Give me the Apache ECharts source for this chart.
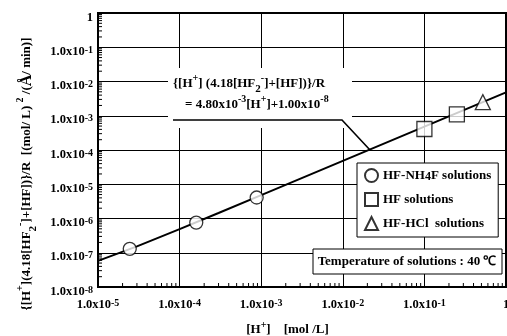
<!DOCTYPE html>
<html><head><meta charset="utf-8">
<script src="https://cdn.jsdelivr.net/npm/echarts@6/dist/echarts.min.js"></script>
<style>html,body{margin:0;padding:0;background:#fff}#c{width:507px;height:336px}</style>
</head><body><div id="c"></div>
<script>
// ---- data ----
var nh4fX = [2.45e-5, 1.6e-4, 8.8e-4];
var nh4fY = [1.3e-7, 7.6e-7, 4.1e-6];
var hfX = [0.10, 0.25];
var hfY = [4.1e-4, 1.1e-3];
var hclX = [0.52];
var hclY = [2.5e-3];
var fitX = [1e-5, 3e-5, 1e-4, 3e-4, 1e-3, 1e-2, 1e-1, 1];
var fitY = [5.8e-8, 1.54e-7, 4.9e-7, 1.45e-6, 4.8e-6, 4.8e-5, 4.8e-4, 4.8e-3];
var xDecades = [1e-5, 1e-4, 1e-3, 1e-2, 1e-1];
var yDecades = [1e-8, 1e-7, 1e-6, 1e-5, 1e-4, 1e-3, 1e-2, 1e-1];
var minorMant = [2, 3, 4, 5, 6, 7, 8, 9];
var seriesNames = ['HF-NH4F solutions', 'HF solutions', 'HF-HCl  solutions'];

function pairs(a, b) { return a.map(function (v, i) { return [v, b[i]]; }); }
var minorXTicks = [], minorYTicks = [];
xDecades.forEach(function (d) { minorMant.forEach(function (m) { minorXTicks.push([d * m, 1e-8]); }); });
yDecades.forEach(function (d) { minorMant.forEach(function (m) { minorYTicks.push([1e-5, d * m]); }); });

var FF = '"Liberation Serif","Times New Roman",serif';
function supRich(fs) {
  return {
    sp: { fontSize: fs - 3, fontWeight: 'bold', fontFamily: FF, color: '#000', verticalAlign: 'top', lineHeight: 11 },
    sb: { fontSize: fs - 2, fontWeight: 'bold', fontFamily: FF, color: '#000', verticalAlign: 'bottom', lineHeight: 13 },
    a: { fontSize: fs + 3, fontWeight: 'bold', fontFamily: FF, color: '#000' }
  };
}
var tickRich = {
  b: { fontSize: 12.5, fontWeight: 'bold', fontFamily: FF, color: '#000', verticalAlign: 'bottom', lineHeight: 13 },
  sp: { fontSize: 10, fontWeight: 'bold', fontFamily: FF, color: '#000', verticalAlign: 'top', lineHeight: 10, padding: [0, 0, 7, 0] },
  one: { fontSize: 12.5, fontWeight: 'bold', fontFamily: FF, color: '#000', verticalAlign: 'top', lineHeight: 13, padding: [0, 0, 6, 0] }
};
function tickFmt(v) {
  var e = Math.round(Math.log10(v));
  if (e === 0) return '{one|1}';
  return '{b|1.0x10}{sp|' + e + '}';
}
var tickLabel = { formatter: tickFmt, fontSize: 12.5, fontWeight: 'bold', fontFamily: FF, color: '#000', padding: [6, 0, 0, 0],
  hideOverlap: false, showMinLabel: true, showMaxLabel: true, rich: tickRich };

var chart = echarts.init(document.getElementById('c'), null, { renderer: 'canvas' });
var sym = { color: '#fff', borderColor: '#000', borderWidth: 1.3 };
chart.setOption({
  animation: false,
  backgroundColor: '#fff',
  grid: { left: 98, right: 1, top: 13, bottom: 49, outerBoundsMode: 'none', containLabel: false, show: true, borderColor: '#000', borderWidth: 2, backgroundColor: 'transparent' },
  xAxis: {
    type: 'log', logBase: 10, min: 1e-5, max: 1, interval: 1,
    axisLine: { show: true, lineStyle: { color: '#000', width: 2 } },
    axisTick: { show: false },
    splitLine: { show: true, lineStyle: { color: '#000', width: 1 } },
    axisLabel: Object.assign({}, tickLabel, { margin: 5 }),
    name: '[H{sp|+}]    [mol /L]', nameLocation: 'middle', nameGap: 33, nameMoveOverlap: false,
    nameTextStyle: { fontSize: 13, fontWeight: 'bold', fontFamily: FF, color: '#000', lineHeight: 20, padding: [0, 29, 0, 0], rich: supRich(13) }
  },
  yAxis: {
    type: 'log', logBase: 10, min: 1e-8, max: 1, interval: 1,
    axisLine: { show: true, lineStyle: { color: '#000', width: 2 } },
    axisTick: { show: false },
    splitLine: { show: true, lineStyle: { color: '#000', width: 1 } },
    axisLabel: Object.assign({}, tickLabel, { margin: 5, padding: [9, 0, 0, 0] }),
    name: '{[H{sp|+}](4.18[HF{sb|2}{sp|-}]+[HF])}/R  [(mol/ L) {sp|2} /({a|Å}/ min)]',
    nameLocation: 'middle', nameRotate: 90, nameGap: 59, nameMoveOverlap: false,
    nameTextStyle: { fontSize: 13, fontWeight: 'bold', fontFamily: FF, color: '#000', lineHeight: 24, padding: [0, 48, 0, 0], rich: supRich(13) }
  },
  legend: {
    data: seriesNames, orient: 'vertical', left: 357, top: 163,
    padding: [5, 7, 6, 7], itemWidth: 13, itemHeight: 13, itemGap: 9,
    backgroundColor: '#fff', borderColor: '#000', borderWidth: 1,
    formatter: function (n) { return n.replace('NH4F', 'NH{sb|4}F'); },
    textStyle: { fontSize: 13, fontWeight: 'bold', fontFamily: FF, color: '#000', lineHeight: 15, rich: {
      sb: { fontSize: 12, fontWeight: 'bold', fontFamily: FF, color: '#000', verticalAlign: 'bottom', lineHeight: 13 } } }
  },
  graphic: [
    { type: 'rect', shape: { x: 168, y: 68, width: 184, height: 60 }, style: { fill: '#fff' }, z: 1, silent: true },
    { type: 'text', x: 173, y: 73, z: 3, silent: true,
      style: { text: '{[H{sp|+}] (4.18[HF{sb|2}{sp|-}]+[HF])}/R', fontSize: 13, fontWeight: 'bold', fontFamily: FF, fill: '#000', lineHeight: 22, rich: supRich(13) } },
    { type: 'text', x: 185, y: 94, z: 3, silent: true,
      style: { text: '= 4.80x10{sp|-3}[H{sp|+}]+1.00x10{sp|-8}', fontSize: 13, fontWeight: 'bold', fontFamily: FF, fill: '#000', lineHeight: 22, rich: supRich(13) } },
    { type: 'polyline', shape: { points: [[173, 120], [342, 120], [370, 150]] }, style: { stroke: '#000', lineWidth: 1.6, fill: null }, z: 3, silent: true },
    { type: 'rect', shape: { x: 313, y: 249, width: 189, height: 25 }, style: { fill: '#fff', stroke: '#000', lineWidth: 1 }, z: 5, silent: true },
    { type: 'text', x: 407, y: 262, z: 6, silent: true,
      style: { text: 'Temperature of solutions : 40 ℃', fontSize: 13, fontWeight: 'bold', fontFamily: FF, fill: '#000', align: 'center', verticalAlign: 'middle' } }
  ],
  series: [
    { type: 'line', name: 'fit', data: pairs(fitX, fitY), symbol: 'none', lineStyle: { color: '#000', width: 2 }, z: 2 },
    { type: 'scatter', name: seriesNames[0], data: pairs(nh4fX, nh4fY), symbol: 'circle', symbolSize: 13, itemStyle: sym, z: 3 },
    { type: 'scatter', name: seriesNames[1], data: pairs(hfX, hfY), symbol: 'rect', symbolSize: 15, itemStyle: sym, z: 3 },
    { type: 'scatter', name: seriesNames[2], data: pairs(hclX, hclY), symbol: 'triangle', symbolSize: 15, itemStyle: sym, z: 3 },
    { type: 'custom', name: 'xminor', silent: true, data: minorXTicks, z: 2,
      renderItem: function (p, api) {
        var pt = api.coord([api.value(0), api.value(1)]);
        return { type: 'line', shape: { x1: pt[0], y1: pt[1], x2: pt[0], y2: pt[1] - 4 }, style: { stroke: '#000', lineWidth: 1 } };
      } },
    { type: 'custom', name: 'yminor', silent: true, data: minorYTicks, z: 2,
      renderItem: function (p, api) {
        var pt = api.coord([api.value(0), api.value(1)]);
        return { type: 'line', shape: { x1: pt[0], y1: pt[1], x2: pt[0] + 4, y2: pt[1] }, style: { stroke: '#000', lineWidth: 1 } };
      } }
  ]
});
</script>
</body></html>
